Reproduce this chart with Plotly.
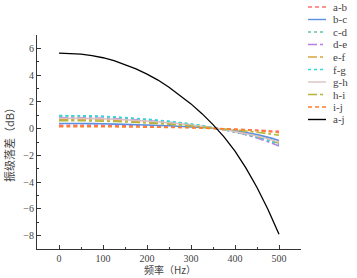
import plotly.graph_objects as go

freq = [0, 50, 100, 150, 200, 250, 300, 350, 400, 450, 500]
freq_aj = [0, 25, 50, 75, 100, 125, 150, 175, 200, 225, 250, 275, 300, 325,
           350, 375, 400, 425, 450, 475, 500]

names = ["a-b", "b-c", "c-d", "d-e", "e-f", "f-g", "g-h", "h-i", "i-j", "a-j"]

ab = [0.25, 0.25, 0.24, 0.22, 0.19, 0.15, 0.09, 0.02, -0.04, -0.11, -0.2]
bc = [0.38, 0.38, 0.36, 0.32, 0.27, 0.21, 0.13, 0.03, -0.17, -0.45, -0.88]
cd = [0.95, 0.94, 0.90, 0.80, 0.68, 0.53, 0.33, 0.08, -0.25, -0.65, -1.2]
de = [0.82, 0.81, 0.78, 0.70, 0.60, 0.47, 0.29, 0.06, -0.26, -0.70, -1.3]
ef = [0.70, 0.69, 0.66, 0.59, 0.50, 0.40, 0.24, 0.05, -0.22, -0.58, -1.1]
fg = [0.97, 0.96, 0.92, 0.82, 0.70, 0.55, 0.34, 0.08, -0.24, -0.62, -1.15]
gh = [0.78, 0.77, 0.74, 0.66, 0.56, 0.44, 0.27, 0.06, -0.22, -0.55, -1.0]
hi = [0.60, 0.59, 0.56, 0.50, 0.42, 0.33, 0.20, 0.04, -0.10, -0.27, -0.5]
ij = [0.15, 0.15, 0.14, 0.13, 0.11, 0.09, 0.06, 0.01, -0.06, -0.16, -0.3]
aj = [5.65, 5.63, 5.57, 5.46, 5.30, 5.08, 4.80, 4.47, 4.08, 3.63, 3.10, 2.50,
      1.85, 1.12, 0.30, -0.62, -1.68, -2.95, -4.40, -6.05, -7.90]

series = [ab, bc, cd, de, ef, fg, gh, hi, ij, aj]
xs = [freq] * 9 + [freq_aj]
colors = ["#FF6F6F", "#5B8FE0", "#5CC79A", "#B57FE6", "#D9A73F",
          "#35D6DB", "#D9C2C2", "#B5B53A", "#FF7F2A", "#000000"]
dashes = ["4px,3px", "solid", "dot", "dashdot", "dashdot", "dot", "solid", "dashdot", "4px,3px", "solid"]

fig = go.Figure()
for n, x, s, c, d in zip(names, xs, series, colors, dashes):
    fig.add_trace(go.Scatter(x=x, y=s, name=n, mode="lines",
                             line_shape="spline" if n != "a-j" else "linear",
                             showlegend=False,
                             line=dict(color=c, dash=d, width=1.6 if n != "a-j" else 1.3)))

serif = "Liberation Serif"
axis_common = dict(showline=True, linecolor="#333", linewidth=1, ticks="inside", ticklen=4,
                   tickcolor="#333", showgrid=False, zeroline=False, automargin=False,
                   tickfont=dict(family=serif, size=10, color="#444"),
                   minor=dict(ticks="inside", ticklen=2, tickcolor="#333"))

# manual compact legend (paper coordinates)
L, T, H = 37, 35, 214
W = 264
shapes = []
annotations = []
for i, (n, c, d) in enumerate(zip(names, colors, dashes)):
    ypx = 7 + 12.5 * i
    yp = (T + H - ypx) / H
    shapes.append(dict(type="line", xref="paper", yref="paper",
                       x0=(308 - L) / W, x1=(326 - L) / W, y0=yp, y1=yp,
                       line=dict(color=c, dash=d, width=1.4)))
    annotations.append(dict(xref="paper", yref="paper", x=(331 - L) / W, y=yp,
                            xanchor="left", yanchor="middle", showarrow=False,
                            text=n, font=dict(family=serif, size=11, color="#444")))

# x-axis title as annotation
annotations.append(dict(xref="paper", yref="paper", x=(170 - L) / W, y=(T + H - 269.5) / H,
                        xanchor="center", yanchor="middle", showarrow=False,
                        text="频率（Hz）",
                        font=dict(family="Noto Sans CJK SC", size=10, color="#444")))

fig.update_layout(
    width=357, height=278,
    margin=dict(l=L, r=56, t=T, b=29),
    plot_bgcolor="white", paper_bgcolor="white",
    showlegend=False,
    shapes=shapes, annotations=annotations,
    xaxis=dict(range=[-50, 550], tickvals=[0, 100, 200, 300, 400, 500],
               minor_dtick=50, **axis_common),
    yaxis=dict(range=[-9, 7], tickvals=[-8, -6, -4, -2, 0, 2, 4, 6],
               minor_dtick=1,
               title=dict(text="振级落差（dB）", font=dict(family="Noto Sans CJK SC", size=11, color="#444"), standoff=6),
               **axis_common),
)

fig.write_html("out.html", config={"displayModeBar": False},
               post_script="document.body.style.margin='0px';document.body.style.overflow='hidden';")
